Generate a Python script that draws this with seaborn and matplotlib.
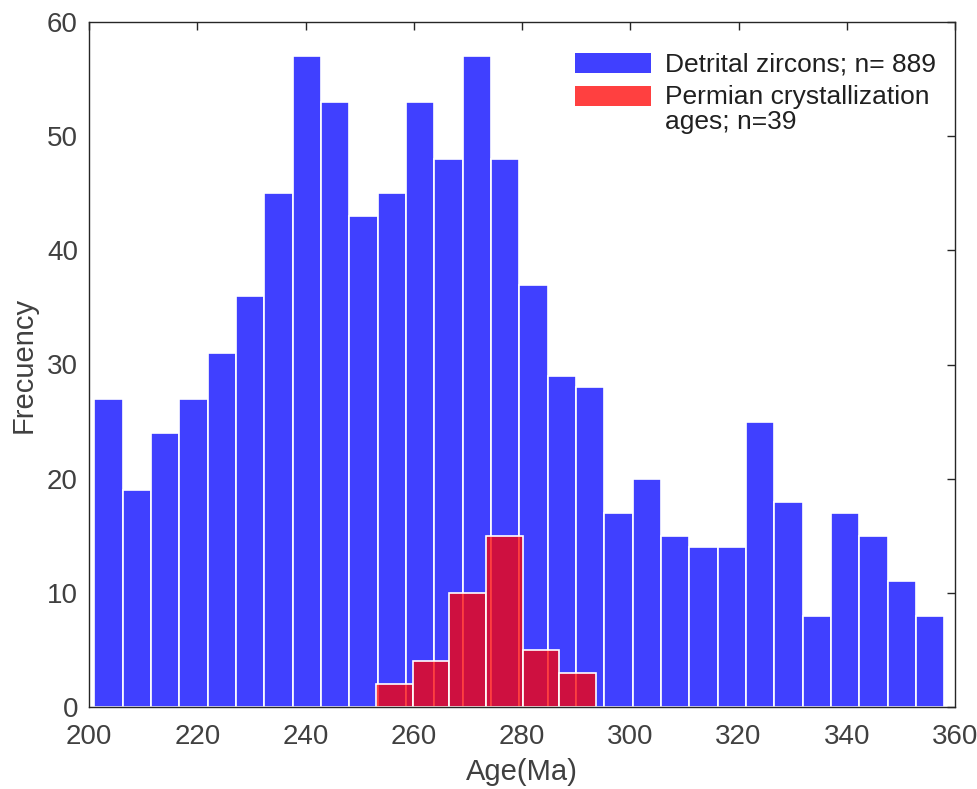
import numpy as np
import pandas as pd
import matplotlib
matplotlib.use("Agg")
import matplotlib.pyplot as plt
import seaborn as sns
from matplotlib.patches import Patch, Rectangle
from matplotlib.legend_handler import HandlerBase

# Detrital zircon ages: 30 equal bins between the min and max age
detrital_lo, detrital_hi = 201.0, 358.0
detrital_counts = [27, 19, 24, 27, 31, 36, 45, 57, 53, 43, 45, 53, 48, 57, 48,
                   37, 29, 28, 17, 20, 15, 14, 14, 25, 18, 8, 17, 15, 11, 8]

# Permian crystallization ages: 6 equal bins
permian_lo, permian_hi = 253.0, 293.7
permian_counts = [2, 4, 10, 15, 5, 3]

x_ticks = [200, 220, 240, 260, 280, 300, 320, 340, 360]
y_ticks = [0, 10, 20, 30, 40, 50, 60]


def binned_frame(lo, hi, counts):
    edges = np.linspace(lo, hi, len(counts) + 1)
    centers = 0.5 * (edges[:-1] + edges[1:])
    return pd.DataFrame({"age": centers, "n": counts}), edges.tolist()


class TopAlignedPatch(HandlerBase):
    """Legend swatch aligned with the first line of a multi-line label."""

    def __init__(self, shift=0.0):
        super().__init__()
        self.shift = shift

    def create_artists(self, legend, orig_handle, xdescent, ydescent,
                       width, height, fontsize, trans):
        r = Rectangle((-xdescent, -ydescent + self.shift * fontsize),
                      width, height,
                      facecolor=orig_handle.get_facecolor(),
                      edgecolor="none", transform=trans)
        return [r]


det_df, det_edges = binned_frame(detrital_lo, detrital_hi, detrital_counts)
per_df, per_edges = binned_frame(permian_lo, permian_hi, permian_counts)

sns.set_style("white")
plt.rcParams["font.family"] = ["Liberation Sans", "DejaVu Sans"]
text_color = "#404040"

fig = plt.figure(figsize=(9.77, 7.89), dpi=100)
ax = fig.add_axes([89 / 977, 1 - 707 / 789, (955 - 89) / 977, (707 - 22) / 789])

sns.histplot(data=det_df, x="age", weights="n", bins=det_edges, ax=ax,
             color="#0000ff", alpha=0.75, edgecolor="white",
             linewidth=1.2, stat="count")
sns.histplot(data=per_df, x="age", weights="n", bins=per_edges, ax=ax,
             color="#ff0000", alpha=0.75, edgecolor="white",
             linewidth=1.2, stat="count")

ax.set_xlim(200, 360)
ax.set_ylim(0, 60)
ax.set_xticks(x_ticks)
ax.set_yticks(y_ticks)
ax.tick_params(direction="in", length=6, width=1, colors="#262626",
               labelcolor=text_color, labelsize=20, top=True, right=True)
ax.tick_params(axis="x", pad=12)
ax.tick_params(axis="y", pad=8)
for s in ax.spines.values():
    s.set_visible(True)
    s.set_color("#262626")
    s.set_linewidth(1.0)

ax.set_xlabel("Age(Ma)", fontsize=21, color=text_color, labelpad=6)
ax.set_ylabel("Frecuency", fontsize=21, color=text_color, labelpad=7)

handles = [
    Patch(facecolor=(0.25, 0.25, 1.0), edgecolor="none"),
    Patch(facecolor=(1.0, 0.25, 0.25), edgecolor="none"),
]
labels = ["Detrital zircons; n= 889", "Permian crystallization\nages; n=39"]
leg = ax.legend(handles, labels, loc="upper right",
                bbox_to_anchor=(1.005, 0.99),
                frameon=False, fontsize=19, labelcolor="#202020",
                handlelength=2.9, handleheight=0.8, handletextpad=0.5,
                labelspacing=0.3,
                handler_map={handles[0]: TopAlignedPatch(0.0),
                             handles[1]: TopAlignedPatch(0.5)})
for t in leg.get_texts():
    t.set_linespacing(1.05)

fig.savefig("out.png", dpi=100)
